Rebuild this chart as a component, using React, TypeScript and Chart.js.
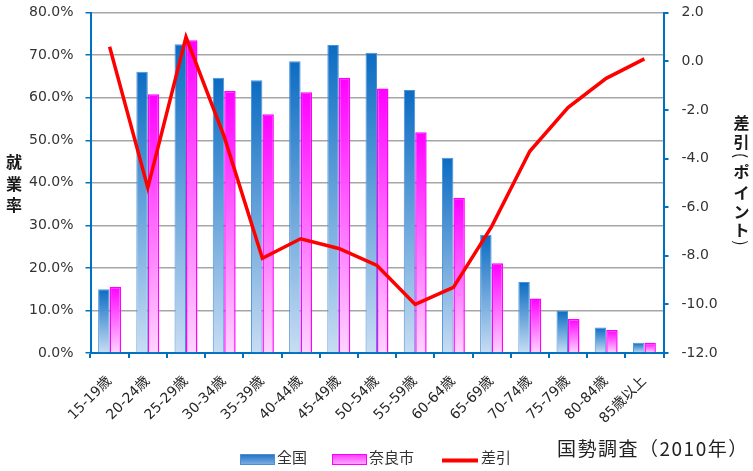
import React, { useEffect, useRef } from "react";
import { Chart, registerables } from "chart.js";

Chart.register(...registerables);

const categories = [
  "15-19歳", "20-24歳", "25-29歳", "30-34歳", "35-39歳", "40-44歳", "45-49歳",
  "50-54歳", "55-59歳", "60-64歳", "65-69歳", "70-74歳", "75-79歳", "80-84歳", "85歳以上",
];
const nationalRate = [15.0, 66.1, 72.6, 64.7, 64.1, 68.6, 72.4, 70.6, 61.8, 45.9, 27.8, 16.7, 9.9, 6.0, 2.4];
const naraRate = [15.6, 60.8, 73.5, 61.6, 56.1, 61.3, 64.7, 62.2, 51.9, 36.5, 21.1, 12.8, 8.0, 5.4, 2.4];
const diffPoints = [0.6, -5.2, 1.0, -3.1, -8.1, -7.3, -7.7, -8.4, -10.0, -9.3, -6.8, -3.7, -1.9, -0.7, 0.1];

const seriesNames = ["全国", "奈良市", "差引"];
const leftTitle = "就業率";
const rightTitle = ["差", "引", "（", "ポ", "イ", "ン", "ト", "）"];
const sourceNote = "国勢調査（2010年）";

const BLUE_TOP = "#0b6cc3";
const BLUE_BOTTOM = "#c8ddf3";
const MAG_TOP = "#ff00ff";
const MAG_BOTTOM = "#ffd4ff";
const AXIS_BLUE = "#0070c0";
const TEXT = "#333333";
const CJK = "'Noto Sans CJK JP', 'DejaVu Sans', sans-serif";
const TICKFONT = "'DejaVu Sans', 'Noto Sans CJK JP', sans-serif";

function barGradient(top: string, bottom: string) {
  return (ctx: any) => {
    const chart = ctx.chart;
    const area = chart.chartArea;
    if (!area || ctx.type !== "data") return top;
    const y = chart.scales.y;
    const v = ctx.raw as number;
    const yTop = y.getPixelForValue(v);
    const yBot = y.getPixelForValue(0);
    if (!isFinite(yTop) || yBot - yTop < 1) return top;
    const g = chart.ctx.createLinearGradient(0, yTop, 0, yBot);
    g.addColorStop(0, top);
    g.addColorStop(1, bottom);
    return g;
  };
}

const decorPlugin = {
  id: "decor",
  afterDraw(chart: any) {
    const c = chart.ctx as CanvasRenderingContext2D;
    c.save();
    // left title (vertical)
    c.fillStyle = "#1a1a1a";
    c.font = `bold 16px ${CJK}`;
    c.textAlign = "center";
    c.textBaseline = "middle";
    const lys = [162, 183.5, 205];
    leftTitle.split("").forEach((ch, i) => c.fillText(ch, 14, lys[i]));
    // right title (vertical)
    const rys = [123, 142, 155.5, 172, 193, 212, 230, 243];
    rightTitle.forEach((ch, i) => {
      const x = 741.5;
      const y = rys[i];
      if (ch === "（" || ch === "）") {
        c.save();
        c.translate(x, y);
        c.rotate(Math.PI / 2);
        c.font = `16px ${CJK}`;
        c.fillText(ch === "（" ? "(" : ")", 0, 0);
        c.restore();
      } else {
        c.font = `bold 16px ${CJK}`;
        c.fillText(ch, x, y);
      }
    });
    // legend
    c.textAlign = "left";
    c.textBaseline = "middle";
    c.font = `15px ${CJK}`;
    const boxY = 454;
    const boxH = 11;
    const drawBox = (x: number, top: string, bottom: string, border: string) => {
      const g = c.createLinearGradient(0, boxY, 0, boxY + boxH);
      g.addColorStop(0, top);
      g.addColorStop(1, bottom);
      c.fillStyle = g;
      c.fillRect(x, boxY, 35, boxH);
      c.strokeStyle = border;
      c.lineWidth = 1;
      c.strokeRect(x + 0.5, boxY + 0.5, 34, boxH - 1);
    };
    drawBox(240, "#1b6fc2", "#86b2e4", "#4a90d9");
    c.fillStyle = TEXT;
    c.fillText(seriesNames[0], 277, 457);
    drawBox(332, "#ff33ff", "#ffb0ff", "#ff00ff");
    c.fillStyle = TEXT;
    c.fillText(seriesNames[1], 369, 457);
    c.strokeStyle = "#ff0000";
    c.lineWidth = 4;
    c.beginPath();
    c.moveTo(442, 460.5);
    c.lineTo(478, 460.5);
    c.stroke();
    c.fillStyle = TEXT;
    c.fillText(seriesNames[2], 481, 457);
    // source note
    c.font = `19px ${CJK}`;
    (c as any).letterSpacing = "1.5px";
    c.fillStyle = "#222";
    c.fillText(sourceNote, 557, 449);
    c.restore();
  },
};

export default function App() {
  const ref = useRef<HTMLCanvasElement | null>(null);
  useEffect(() => {
    if (!ref.current) return;
    const chart = new Chart(ref.current, {
      type: "bar",
      data: {
        labels: categories,
        datasets: [
          {
            label: seriesNames[0],
            data: nationalRate,
            yAxisID: "y",
            backgroundColor: barGradient(BLUE_TOP, BLUE_BOTTOM) as any,
            borderColor: "#4a90d9",
            borderWidth: 1,
            categoryPercentage: 0.6,
            barPercentage: 1,
            order: 2,
          },
          {
            label: seriesNames[1],
            data: naraRate,
            yAxisID: "y",
            backgroundColor: barGradient(MAG_TOP, MAG_BOTTOM) as any,
            borderColor: "#ff00ff",
            borderWidth: 1.5,
            categoryPercentage: 0.6,
            barPercentage: 1,
            order: 2,
          },
          {
            type: "line" as any,
            label: seriesNames[2],
            data: diffPoints,
            yAxisID: "y2",
            borderColor: "#ff0000",
            backgroundColor: "#ff0000",
            borderWidth: 3.5,
            pointRadius: 0,
            tension: 0,
            order: 1,
          } as any,
        ],
      },
      options: {
        animation: false,
        responsive: false,
        devicePixelRatio: 1,
        layout: { padding: { top: 12.7, bottom: 0, left: 0, right: 0 } },
        plugins: { legend: { display: false }, tooltip: { enabled: false } },
        scales: {
          x: {
            grid: {
              display: true,
              drawOnChartArea: false,
              drawTicks: true,
              tickLength: 5,
              color: AXIS_BLUE,
              lineWidth: 2,
              offset: true,
            },
            border: { color: AXIS_BLUE, width: 2 },
            ticks: {
              minRotation: 45,
              maxRotation: 45,
              autoSkip: false,
              color: "#262626",
              font: { family: TICKFONT, size: 14 },
              padding: 15,
            },
            afterFit: (s: any) => {
              s.height = 118;
            },
          },
          y: {
            position: "left",
            min: 0,
            max: 80,
            ticks: {
              stepSize: 10,
              color: TEXT,
              font: { family: TICKFONT, size: 14 },
              padding: 12,
              callback: (v: any) => Number(v).toFixed(1) + "%",
            },
            grid: {
              color: "#a6a6a6",
              lineWidth: 1.5,
              tickColor: AXIS_BLUE,
              tickLength: 5,
              drawTicks: true,
            },
            border: { color: AXIS_BLUE, width: 2 },
            afterFit: (s: any) => {
              s.width = 90.5;
              s.paddingTop = 4;
              s.paddingBottom = 4;
            },
          },
          y2: {
            position: "right",
            min: -12,
            max: 2,
            ticks: {
              stepSize: 2,
              color: TEXT,
              font: { family: TICKFONT, size: 14 },
              padding: 13,
              callback: (v: any) => Number(v).toFixed(1),
            },
            grid: {
              drawOnChartArea: false,
              tickColor: AXIS_BLUE,
              tickLength: 5,
              lineWidth: 2,
            },
            border: { color: AXIS_BLUE, width: 2 },
            afterFit: (s: any) => {
              s.width = 89.5;
              s.paddingTop = 4;
              s.paddingBottom = 4;
            },
          },
        },
      },
      plugins: [decorPlugin],
    });
    return () => chart.destroy();
  }, []);
  return (
    <div style={{ position: "absolute", left: 0, top: 0, width: 753, height: 471, background: "#fff" }}>
      <canvas ref={ref} width={753} height={471} style={{ display: "block", width: 753, height: 471 }} />
    </div>
  );
}
